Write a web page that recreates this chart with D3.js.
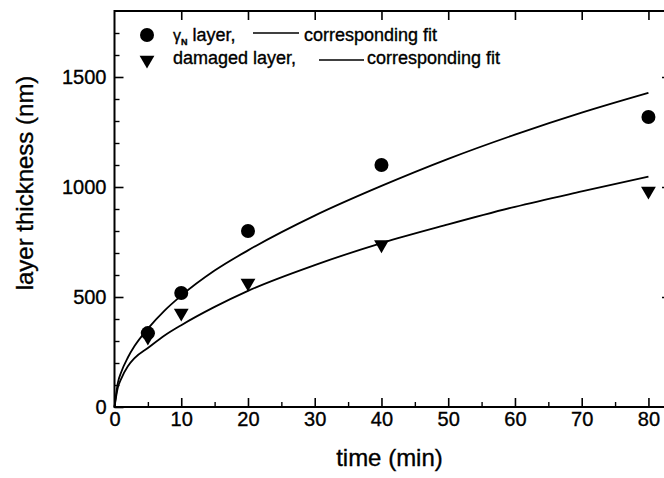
<!DOCTYPE html>
<html>
<head>
<meta charset="utf-8">
<script src="https://cdn.jsdelivr.net/npm/d3@7"></script>
<style>
  body { margin: 0; background: #fff; }
  svg { display: block; font-family: "Liberation Sans", Arial, sans-serif; }
  svg text { fill: #000; stroke: #000; stroke-width: 0.35px; }
  .axis path, .axis line { stroke: #000; }
  .axis text { font-size: 20px; }
</style>
</head>
<body>
<div id="chart"></div>
<script>
'use strict';

// measured points
var gammaTimes = [5, 10, 20, 40, 80];
var gammaValues = [336, 518, 800, 1100, 1318];
var damagedTimes = [5, 10, 20, 40, 80];
var damagedValues = [318, 427, 564, 738, 982];

// fit curves
var fitTimes = [0, 0.5, 1, 2, 3, 5, 7.5, 10, 15, 20, 30, 40, 50, 60, 70, 80];
var gammaFit = [0, 110, 158, 225, 277, 356, 438, 506, 620, 712, 870, 1005, 1128, 1238, 1338, 1428];
var damagedFit = [0, 88, 128, 185, 222, 268, 325, 372, 455, 528, 645, 745, 830, 910, 980, 1047];

var xTicks = [0, 10, 20, 30, 40, 50, 60, 70, 80];
var yTicks = [0, 500, 1000, 1500];

var W = 664, H = 478;
var plotLeft = 114.5, plotRight = 669, plotTop = 11, plotBottom = 407;

var svg = d3.select('#chart').append('svg')
	.attr('width', W)
	.attr('height', H);

var x = d3.scaleLinear().domain([0, 83.08]).range([plotLeft, plotRight]);
var y = d3.scaleLinear().domain([0, 1800]).range([plotBottom, plotTop]);

// frame
svg.append('rect')
	.attr('x', plotLeft).attr('y', plotTop)
	.attr('width', plotRight - plotLeft).attr('height', plotBottom - plotTop)
	.attr('fill', 'none').attr('stroke', '#000').attr('stroke-width', 2);

var minorX = d3.range(5, 85, 10);
var minorY = d3.range(100, 1800, 100).filter(function(v){ return v % 500 !== 0; });

// bottom axis
svg.append('g')
	.attr('class', 'axis x')
	.attr('transform', 'translate(0,' + plotBottom + ')')
	.call(d3.axisBottom(x).tickValues(xTicks).tickSize(-9).tickPadding(5).tickSizeOuter(0))
	.call(function(g){ g.select('.domain').remove(); g.selectAll('line').attr('stroke-width', 1.6); });

svg.append('g')
	.attr('transform', 'translate(0,' + plotBottom + ')')
	.call(d3.axisBottom(x).tickValues(minorX).tickSize(-5).tickFormat('').tickSizeOuter(0))
	.call(function(g){ g.select('.domain').remove(); g.selectAll('line').attr('stroke', '#000').attr('stroke-width', 1.4); });

// top axis
svg.append('g')
	.attr('transform', 'translate(0,' + plotTop + ')')
	.call(d3.axisTop(x).tickValues(xTicks.slice(1)).tickSize(-9).tickFormat('').tickSizeOuter(0))
	.call(function(g){ g.select('.domain').remove(); g.selectAll('line').attr('stroke', '#000').attr('stroke-width', 1.6); });

// left axis
svg.append('g')
	.attr('class', 'axis y')
	.attr('transform', 'translate(' + plotLeft + ',0)')
	.call(d3.axisLeft(y).tickValues(yTicks).tickFormat(d3.format('d')).tickSize(-9).tickPadding(8).tickSizeOuter(0))
	.call(function(g){ g.select('.domain').remove(); g.selectAll('line').attr('stroke-width', 1.6); });

svg.append('g')
	.attr('transform', 'translate(' + plotLeft + ',0)')
	.call(d3.axisLeft(y).tickValues(minorY).tickSize(-5).tickFormat('').tickSizeOuter(0))
	.call(function(g){ g.select('.domain').remove(); g.selectAll('line').attr('stroke', '#000').attr('stroke-width', 1.4); });

// right axis
svg.append('g')
	.attr('transform', 'translate(' + plotRight + ',0)')
	.call(d3.axisRight(y).tickValues(yTicks.slice(1)).tickSize(-7).tickFormat('').tickSizeOuter(0))
	.call(function(g){ g.select('.domain').remove(); g.selectAll('line').attr('stroke', '#000').attr('stroke-width', 1.4); });

// axis titles
svg.append('text')
	.attr('x', (x(0) + x(80)) / 2 + 8).attr('y', 466)
	.attr('text-anchor', 'middle')
	.attr('font-size', 24)
	.text('time (min)');

svg.append('text')
	.attr('transform', 'translate(33,183) rotate(-90)')
	.attr('text-anchor', 'middle')
	.attr('font-size', 24)
	.text('layer thickness (nm)');

// fit lines
var line = d3.line()
	.x(function(d){ return x(d[0]); })
	.y(function(d){ return y(d[1]); })
	.curve(d3.curveMonotoneX);

[gammaFit, damagedFit].forEach(function(vals){
	svg.append('path')
		.datum(fitTimes.map(function(t, i){ return [t, vals[i]]; }))
		.attr('d', line)
		.attr('fill', 'none')
		.attr('stroke', '#000')
		.attr('stroke-width', 1.8);
});

// markers
var tri = d3.symbol().type(d3.symbolTriangle).size(95);

svg.append('g').selectAll('circle')
	.data(gammaTimes.map(function(t, i){ return [t, gammaValues[i]]; }))
	.enter().append('circle')
	.attr('cx', function(d){ return x(d[0]); })
	.attr('cy', function(d){ return y(d[1]); })
	.attr('r', 7)
	.attr('fill', '#000');

svg.append('g').selectAll('path')
	.data(damagedTimes.map(function(t, i){ return [t, damagedValues[i]]; }))
	.enter().append('path')
	.attr('d', tri)
	.attr('transform', function(d){ return 'translate(' + x(d[0]) + ',' + y(d[1]) + ') rotate(180)'; })
	.attr('fill', '#000');

// legend
var legend = svg.append('g').attr('font-size', 18);

legend.append('circle').attr('cx', 147).attr('cy', 35).attr('r', 7).attr('fill', '#000');
var t1 = legend.append('text').attr('x', 173).attr('y', 41);
t1.append('tspan').attr('font-size', 16).text('γ');
t1.append('tspan').attr('font-size', 9).attr('dy', 4).attr('font-weight', 'bold').text('N');
t1.append('tspan').attr('dy', -4).text(' layer,');
legend.append('line').attr('x1', 253).attr('x2', 299).attr('y1', 33).attr('y2', 33)
	.attr('stroke', '#000').attr('stroke-width', 1.6);
legend.append('text').attr('x', 304).attr('y', 41).text('corresponding fit');

legend.append('path').attr('d', tri)
	.attr('transform', 'translate(147,60) rotate(180)').attr('fill', '#000');
legend.append('text').attr('x', 173).attr('y', 64).text('damaged layer,');
legend.append('line').attr('x1', 319).attr('x2', 364).attr('y1', 60).attr('y2', 60)
	.attr('stroke', '#000').attr('stroke-width', 1.6);
legend.append('text').attr('x', 367).attr('y', 64).text('corresponding fit');
</script>
</body>
</html>
